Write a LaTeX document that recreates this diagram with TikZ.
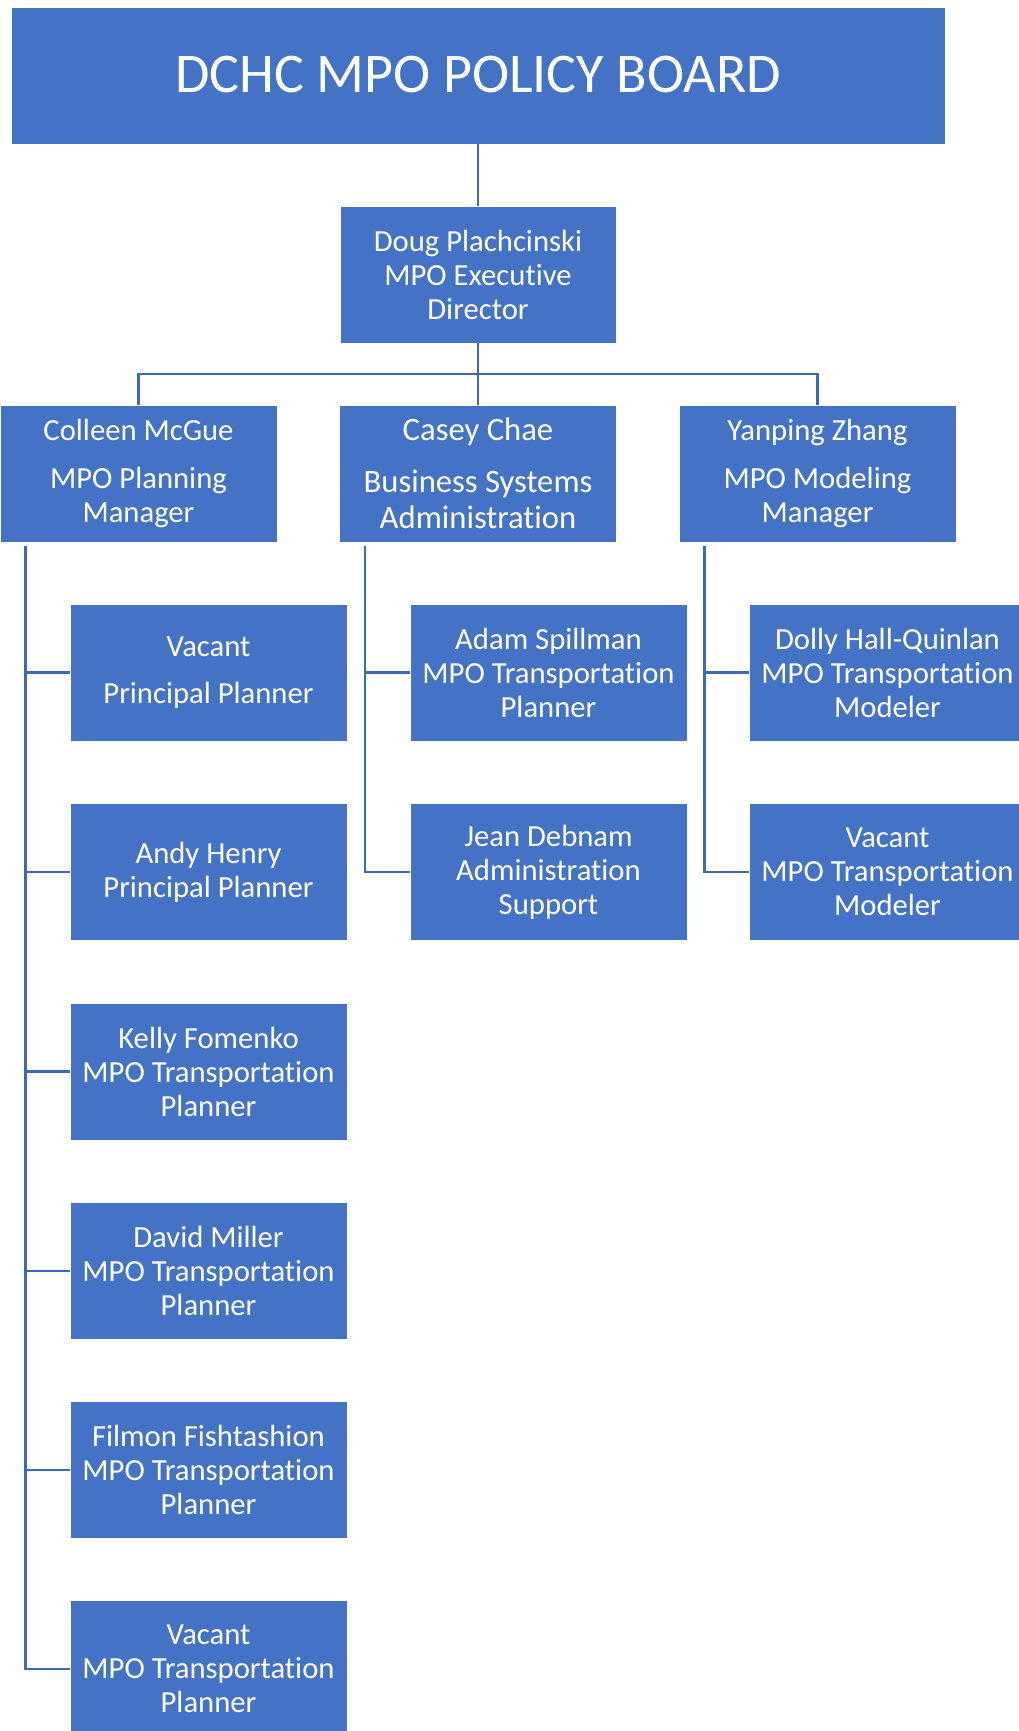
\documentclass[tikz,border=0pt]{standalone}
\usepackage{fontspec}
\setmainfont{Carlito}[Ligatures={NoCommon,NoContextual}]
\newcommand{\tI}{t\kern0pt i}
\definecolor{boxblue}{HTML}{4472C4}
\definecolor{lineblue}{HTML}{3F69B5}
\tikzset{
  orgbox/.style={rectangle, fill=boxblue, draw=white, line width=0.6pt, text=white,
    align=center, minimum width=207.75pt, minimum height=102.75pt, inner sep=0pt,
    font=\fontsize{23}{25.5}\selectfont},
  conn/.style={draw=lineblue, line width=1.9pt},
}
\begin{document}
\begin{tikzpicture}[x=0.75pt,y=-0.75pt]
\useasboundingbox (0,0) rectangle (1018,1731);
% top
\node[orgbox, minimum width=700.5pt, font=\fontsize{42}{50}\selectfont] (board) at (478,75.5) {\raisebox{1.9pt}{DCHC MPO POLICY BOARD}};
\node[orgbox, minimum width=207pt] (exec) at (478,274.5) {Doug Plachcinski\\MPO Execu\tI ve\\Director};
% managers
\node[orgbox] (colleen) at (138.5,473.5) {Colleen McGue\\[10.5pt]MPO Planning\\Manager};
\node[orgbox, font=\fontsize{24.5}{27}\selectfont] (casey) at (478,473.5) {Casey Chae\\[12pt]Business Systems\\Administra\tI on};
\node[orgbox] (yanping) at (817.5,473.5) {Yanping Zhang\\[10.5pt]MPO Modeling\\Manager};
% column 1
\node[orgbox] (p1) at (208.5,672.5) {Vacant\\[10.3pt]Principal Planner};
\node[orgbox] (p2) at (208.5,872) {Andy Henry\\Principal Planner};
\node[orgbox] (p3) at (208.5,1071.5) {Kelly Fomenko\\MPO Transporta\tI on\\Planner};
\node[orgbox] (p4) at (208.5,1271) {David Miller\\MPO Transporta\tI on\\Planner};
\node[orgbox] (p5) at (208.5,1470) {Filmon Fishtashion\\MPO Transporta\tI on\\Planner};
\node[orgbox] (p6) at (208.5,1669) {Vacant\\MPO Transporta\tI on\\Planner};
% column 2
\node[orgbox] (q1) at (548.5,672.5) {Adam Spillman\\MPO Transporta\tI on\\Planner};
\node[orgbox] (q2) at (548.5,872) {Jean Debnam\\Administra\tI on\\Support};
% column 3
\node[orgbox] (r1) at (887.5,672.5) {Dolly Hall-Quinlan\\MPO Transporta\tI on\\Modeler};
\node[orgbox] (r2) at (887.5,872) {Vacant\\MPO Transporta\tI on\\Modeler};
% connectors
\coordinate (bus) at (478,374);
\draw[conn] (board.south) -- (exec.north);
\draw[conn] (exec.south) -- (bus) -- (casey.north);
\draw[conn] (colleen.north) |- (bus) -| (yanping.north);
\coordinate (v1) at ([xshift=19.5pt,yshift=-3pt]colleen.south west);
\coordinate (v2) at ([xshift=19.5pt,yshift=-3pt]casey.south west);
\coordinate (v3) at ([xshift=19.5pt,yshift=-3pt]yanping.south west);
\draw[conn] (v1) |- (p6.west);
\foreach \i in {1,...,5}{\draw[conn] (v1 |- p\i.west) -- (p\i.west);}
\draw[conn] (v2) |- (q2.west);
\draw[conn] (v2 |- q1.west) -- (q1.west);
\draw[conn] (v3) |- (r2.west);
\draw[conn] (v3 |- r1.west) -- (r1.west);
\end{tikzpicture}
\end{document}
